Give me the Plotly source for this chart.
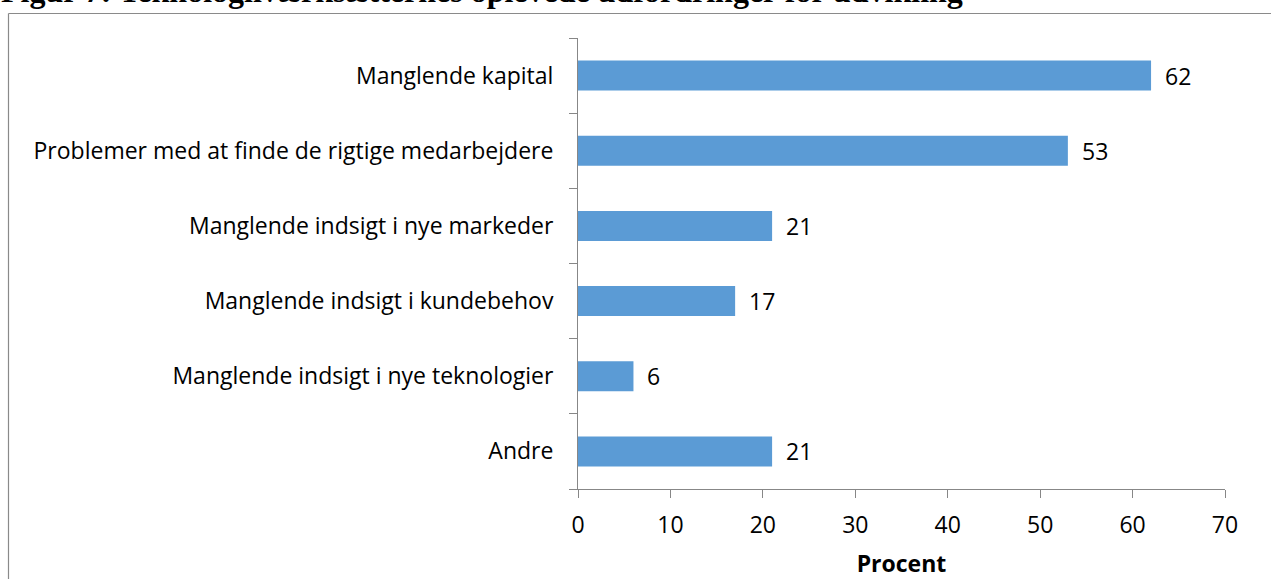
import plotly.graph_objects as go

categories = ["Manglende kapital", "Problemer med at finde de rigtige medarbejdere",
              "Manglende indsigt i nye markeder", "Manglende indsigt i kundebehov",
              "Manglende indsigt i nye teknologier", "Andre"]
values = [62, 53, 21, 17, 6, 21]
x_ticks = [0, 10, 20, 30, 40, 50, 60, 70]
title_text = "Figur 7: Teknologiiværksætternes oplevede udfordringer for udvikling"

W, H = 1271, 579
L, R, T, B = 578, 46, 38, 90
pw, ph = W - L - R, H - T - B
FS = 23

def px_x(p):
    return (p - L) / pw

def px_y(p):
    return 1 - (p - T) / ph

fig = go.Figure(go.Bar(
    y=categories, x=values, orientation="h",
    marker=dict(color="#5B9BD5", line=dict(width=0)),
    cliponaxis=False,
))

for c, v in zip(categories, values):
    fig.add_annotation(x=v, y=c, xref="x", yref="y", text=str(v), showarrow=False,
                       xanchor="left", yanchor="middle", xshift=12,
                       font=dict(size=FS, color="black", family="Open Sans"))

fig.update_layout(
    width=W, height=H,
    margin=dict(l=L, r=R, t=T, b=B, autoexpand=False),
    paper_bgcolor="white", plot_bgcolor="white",
    bargap=0.6, showlegend=False,
    font=dict(family="Open Sans", size=FS, color="black"),
    xaxis=dict(range=[0, 70], tickvals=x_ticks, showgrid=False, zeroline=False,
               showline=True, linecolor="#878787", linewidth=1, automargin=False,
               ticks="outside", ticklen=8, tickcolor="#878787",
               tickfont=dict(size=FS), ticklabelstandoff=7,
               title=dict(text="<b>Procent</b>", font=dict(size=FS), standoff=18)),
    yaxis=dict(categoryorder="array", categoryarray=categories[::-1], automargin=False,
               showgrid=False, zeroline=False, showline=True, linecolor="#878787",
               linewidth=1, ticks="outside", ticklen=8, tickcolor="#878787",
               tickson="boundaries", tickfont=dict(size=FS), ticklabelstandoff=19),
)

# outer frame: top and left edges (the rest lies outside the picture)
frame_line = dict(color="#8A8A8A", width=1.2)
fig.add_shape(type="line", xref="paper", yref="paper",
              x0=px_x(8.5), x1=px_x(1290), y0=px_y(13.5), y1=px_y(13.5), line=frame_line)
fig.add_shape(type="line", xref="paper", yref="paper",
              x0=px_x(8.5), x1=px_x(8.5), y0=px_y(13.5), y1=px_y(600), line=frame_line)

fig.add_annotation(text="<b>" + title_text + "</b>", xref="paper", yref="paper",
                   x=px_x(0), y=px_y(10), xanchor="left", yanchor="bottom",
                   showarrow=False, font=dict(family="Liberation Serif", size=32, color="black"),
                   borderpad=0)

fig.write_html("out.html", config={"displayModeBar": False},
               post_script="document.documentElement.style.margin='0';document.body.style.margin='0';document.body.style.overflow='hidden';document.documentElement.style.overflow='hidden';")
